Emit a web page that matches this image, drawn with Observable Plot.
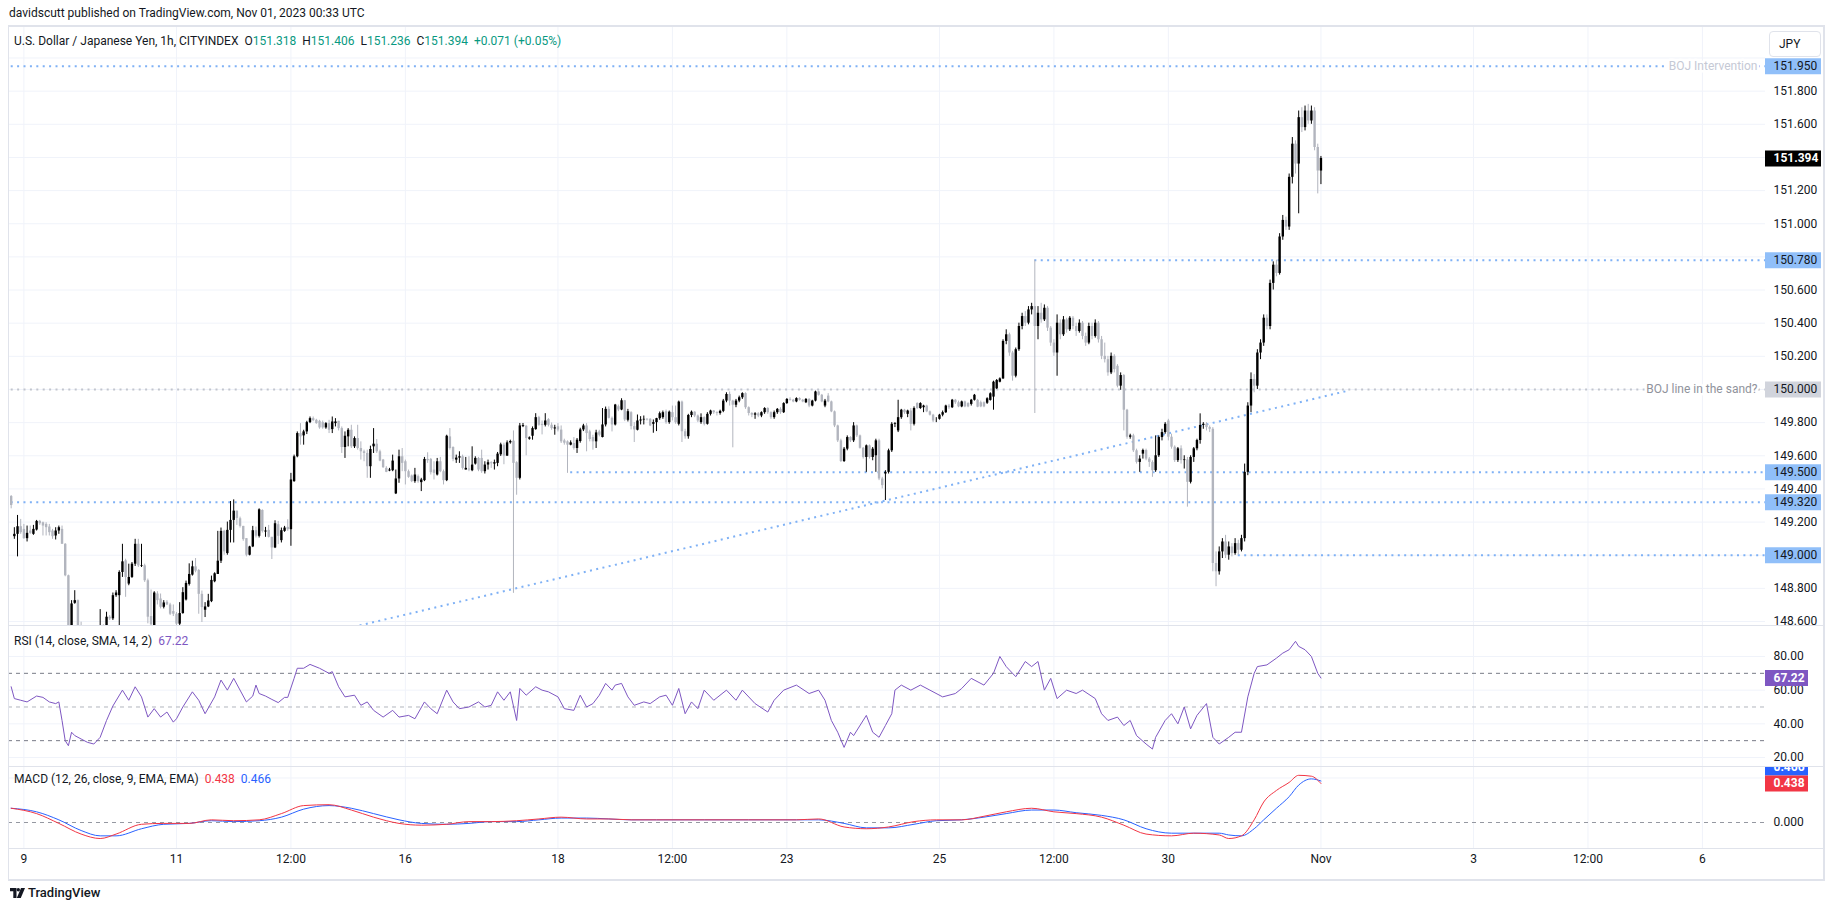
<!DOCTYPE html>
<html>
<head>
<meta charset="utf-8">
<script src="https://cdn.jsdelivr.net/npm/d3@7"></script>
<script src="https://cdn.jsdelivr.net/npm/@observablehq/plot@0.6"></script>
<style>
html,body{margin:0;padding:0;background:#fff;}
#root{position:relative;width:1835px;height:911px;overflow:hidden;font-family:Roboto,"Noto Sans",sans-serif;color:#131722;}
.pane{position:absolute;left:0;}
.ln{position:absolute;background:#e0e3eb;}
.txt{position:absolute;white-space:nowrap;font-size:12px;line-height:14px;}
.g{color:#089981;}
</style>
</head>
<body>
<div id="root">
  <div id="p3" class="pane" style="top:766px"></div>
  <div id="p2" class="pane" style="top:625px"></div>
  <div id="p1" class="pane" style="top:26px"></div>
  <div class="ln" style="left:8px;top:25px;width:1817px;height:2px"></div>
  <div class="ln" style="left:8px;top:879px;width:1817px;height:2px"></div>
  <div class="ln" style="left:8px;top:26px;width:1px;height:854px"></div>
  <div class="ln" style="left:1823px;top:26px;width:2px;height:854px"></div>
  <div class="ln" style="left:8px;top:625px;width:1816px;height:1px"></div>
  <div class="ln" style="left:8px;top:766px;width:1816px;height:1px"></div>
  <div class="ln" style="left:8px;top:848px;width:1816px;height:1px"></div>
  <div class="txt" style="left:9px;top:6px;">davidscutt published on TradingView.com, Nov 01, 2023 00:33 UTC</div>
  <div class="txt" style="left:14px;top:34px;">U.S. Dollar / Japanese Yen, 1h, CITYINDEX&nbsp;&nbsp;O<span class="g">151.318</span>&nbsp;&nbsp;H<span class="g">151.406</span>&nbsp;&nbsp;L<span class="g">151.236</span>&nbsp;&nbsp;C<span class="g">151.394</span>&nbsp;&nbsp;<span class="g">+0.071 (+0.05%)</span></div>
  <div class="txt" style="left:1769px;top:31px;width:50px;height:24px;line-height:24px;border:1px solid #e0e3eb;border-radius:4px;background:#fff;padding-left:0;text-indent:9px;">JPY</div>
  <div class="txt" style="left:14px;top:634px;">RSI (14, close, SMA, 14, 2)&nbsp;&nbsp;<span style="color:#7e57c2">67.22</span></div>
  <div class="txt" style="left:14px;top:772px;">MACD (12, 26, close, 9, EMA, EMA)&nbsp;&nbsp;<span style="color:#f23645">0.438</span>&nbsp;&nbsp;<span style="color:#2962ff">0.466</span></div>
  <div class="txt" style="left:10px;top:885px;font-size:13px;line-height:15px;font-weight:500;">
    <svg width="15" height="10" viewBox="0 0 15 10" style="vertical-align:-1px;margin-right:3px"><path d="M0 0h6.5v10h-3.2v-6.8H0z" fill="#131722"/><circle cx="8.3" cy="1.7" r="1.7" fill="#131722"/><path d="M11 0h4l-4.2 10h-4z" fill="#131722"/></svg>TradingView</div>
</div>
<script>
// ---------- time axis ----------
const firstBar = -4; // bar index of first candle (hourly bars, Mon Oct 9 00:00 = 0)
const timeTickBars = [0, 48, 84, 120, 168, 204, 240, 288, 324, 360, 408, 456, 492, 528];
const timeTickLabels = ["9", "11", "12:00", "16", "18", "12:00", "23", "25", "12:00", "30", "Nov", "3", "12:00", "6"];

// ---------- USDJPY 1h candles ----------
const opens = [
149.354,149.112,149.126,149.172,149.156,149.10,149.146,149.126,149.152,149.204,
149.196,149.186,149.17,149.146,149.116,149.146,149.156,149.066,148.876,148.52,
148.71,148.726,148.56,148.49,148.44,148.50,148.47,148.52,148.52,148.56,
148.55,148.626,148.616,148.756,148.756,148.896,148.966,148.826,148.866,148.946,
149.066,148.934,148.936,148.846,148.63,148.55,148.766,148.736,148.686,148.716,
148.70,148.66,148.644,148.584,148.648,148.73,148.824,148.88,148.93,148.908,
148.764,148.668,148.688,148.72,148.84,148.884,148.964,149.144,149.01,149.15,
149.21,149.266,149.22,149.174,149.1,149.0,149.05,149.148,149.114,149.27,
149.14,149.15,149.108,149.044,149.184,149.088,149.144,149.168,149.154,149.444,
149.594,149.734,149.72,149.744,149.80,149.824,149.814,149.808,149.80,149.768,
149.794,149.758,149.794,149.808,149.764,149.65,149.714,149.754,149.654,149.704,
149.644,149.624,149.614,149.534,149.654,149.67,149.624,149.574,149.524,149.508,
149.51,149.37,149.46,149.594,149.564,149.504,149.478,149.444,149.474,149.438,
149.45,149.578,149.578,149.514,149.484,149.564,149.504,149.45,149.714,149.65,
149.574,149.586,149.594,149.514,149.52,149.51,149.55,149.584,149.584,149.504,
149.544,149.558,149.55,149.554,149.606,149.664,149.598,149.678,149.688,149.558,
149.464,149.776,149.778,149.70,149.718,149.758,149.83,149.79,149.784,149.818,
149.784,149.762,149.775,149.755,149.69,149.684,149.664,149.674,149.644,149.686,
149.756,149.78,149.744,149.71,149.684,149.744,149.71,149.786,149.88,149.826,
149.786,149.896,149.876,149.932,149.814,149.86,149.776,149.754,149.81,149.816,
149.82,149.82,149.79,149.80,149.824,149.83,149.866,149.80,149.86,149.83,
149.79,149.924,149.745,149.715,149.843,149.863,149.84,149.80,149.83,149.79,
149.85,149.87,149.86,149.855,149.868,149.93,149.97,149.93,149.905,149.93,
149.95,149.975,149.89,149.855,149.845,149.853,149.84,149.86,149.885,149.86,
149.83,149.86,149.88,149.86,149.915,149.94,149.935,149.925,149.945,149.935,
149.92,149.94,149.90,149.93,149.985,149.965,149.9,149.96,149.925,149.865,
149.78,149.69,149.565,149.64,149.71,149.69,149.78,149.72,149.645,149.59,
149.66,149.59,149.60,149.69,149.46,149.49,149.50,149.63,149.79,149.75,
149.83,149.875,149.85,149.87,149.79,149.915,149.885,149.89,149.90,149.865,
149.845,149.81,149.82,149.845,149.86,149.90,149.89,149.935,149.92,149.895,
149.925,149.915,149.91,149.935,149.934,149.92,149.92,149.917,149.934,149.954,
150.004,150.044,150.064,150.29,150.33,150.22,150.08,150.24,150.38,150.44,
150.40,150.48,150.50,150.38,150.46,150.42,150.49,150.37,150.28,150.22,
150.40,150.33,150.42,150.36,150.43,150.38,150.35,150.40,150.32,150.28,
150.38,150.32,150.40,150.30,150.20,150.18,150.10,150.20,150.14,150.02,
150.084,149.875,149.712,149.72,149.63,149.56,149.61,149.632,149.58,149.56,
149.51,149.60,149.71,149.74,149.81,149.712,149.652,149.571,149.642,149.571,
149.575,149.44,149.59,149.642,149.692,149.783,149.79,149.77,149.76,148.95,
148.90,149.02,149.08,149.00,149.05,149.01,149.07,149.03,149.10,149.50,
149.90,150.06,150.02,150.22,150.28,150.43,150.38,150.64,150.75,150.70,
150.92,151.02,150.98,151.28,151.48,151.36,151.64,151.58,151.68,151.62,
151.68,151.46,151.318];
const highs = [
149.36,149.166,149.24,149.216,149.186,149.176,149.176,149.18,149.21,149.21,
149.2,149.196,149.186,149.156,149.166,149.176,149.176,149.07,148.88,148.726,
148.786,148.73,148.596,148.52,148.52,148.54,148.55,148.56,148.672,148.58,
148.656,148.636,148.772,148.786,148.906,149.066,148.976,148.946,148.956,149.096,
149.096,149.066,148.946,148.856,148.79,148.78,148.78,148.766,148.726,148.726,
148.71,148.70,148.654,148.714,148.804,148.844,148.948,148.964,148.98,148.914,
148.784,148.714,148.764,148.874,148.894,149.144,149.164,149.15,149.2,149.324,
149.334,149.266,149.23,149.174,149.1,149.054,149.174,149.17,149.28,149.274,
149.168,149.18,149.108,149.208,149.204,149.164,149.174,149.214,149.494,149.604,
149.744,149.794,149.754,149.808,149.834,149.834,149.82,149.814,149.81,149.80,
149.814,149.834,149.824,149.808,149.774,149.744,149.764,149.784,149.714,149.784,
149.684,149.634,149.634,149.658,149.764,149.698,149.634,149.578,149.534,149.524,
149.604,149.514,149.634,149.644,149.574,149.514,149.484,149.524,149.484,149.464,
149.59,149.618,149.584,149.564,149.584,149.59,149.514,149.724,149.764,149.654,
149.604,149.624,149.604,149.59,149.594,149.654,149.594,149.59,149.634,149.564,
149.574,149.564,149.574,149.62,149.676,149.676,149.69,149.694,149.75,149.564,
149.795,149.795,149.782,149.714,149.774,149.854,149.838,149.81,149.854,149.824,
149.798,149.784,149.794,149.78,149.70,149.69,149.69,149.71,149.704,149.766,
149.79,149.794,149.754,149.724,149.754,149.754,149.885,149.894,149.895,149.834,
149.91,149.906,149.944,149.934,149.88,149.866,149.80,149.846,149.836,149.84,
149.824,149.824,149.816,149.826,149.864,149.87,149.876,149.87,149.90,149.90,
149.93,149.93,149.76,149.85,149.87,149.866,149.846,149.853,149.835,149.86,
149.875,149.873,149.865,149.875,149.94,149.98,149.985,149.935,149.94,149.96,
149.98,149.98,149.895,149.86,149.86,149.86,149.865,149.89,149.89,149.865,
149.87,149.885,149.89,149.92,149.945,149.95,149.94,149.95,149.95,149.94,
149.945,149.945,149.935,149.99,149.99,149.97,149.94,149.975,149.93,149.87,
149.785,149.70,149.65,149.72,149.715,149.80,149.785,149.725,149.65,149.665,
149.665,149.65,149.70,149.70,149.47,149.51,149.64,149.80,149.80,149.935,
149.88,149.88,149.875,149.885,149.895,149.92,149.92,149.905,149.905,149.87,
149.85,149.83,149.85,149.87,149.905,149.91,149.94,149.94,149.93,149.93,
149.93,149.92,149.94,149.97,149.94,149.93,149.925,149.95,149.98,150.05,
150.06,150.07,150.30,150.36,150.34,150.23,150.25,150.40,150.46,150.47,
150.50,150.52,150.78,150.50,150.52,150.51,150.50,150.38,150.30,150.45,
150.42,150.44,150.43,150.44,150.44,150.40,150.42,150.41,150.34,150.40,
150.40,150.42,150.41,150.32,150.28,150.20,150.22,150.21,150.15,150.10,
150.09,149.88,149.73,149.73,149.64,149.60,149.64,149.64,149.59,149.57,
149.72,149.72,149.76,149.80,149.82,149.73,149.66,149.65,149.66,149.60,
149.59,149.60,149.65,149.70,149.853,149.80,149.80,149.78,149.77,149.02,
149.05,149.10,149.12,149.08,149.07,149.10,149.09,149.12,149.55,149.92,
150.10,150.09,150.24,150.30,150.45,150.45,150.66,150.77,150.78,150.94,
151.05,151.04,151.30,151.52,151.50,151.68,151.70,151.71,151.72,151.71,
151.70,151.48,151.406];
const lows = [
149.28,149.096,148.99,149.126,149.096,149.08,149.126,149.12,149.146,149.18,
149.116,149.116,149.116,149.096,149.092,149.126,149.066,148.87,148.50,148.50,
148.704,148.53,148.47,148.40,148.42,148.45,148.44,148.48,148.50,148.50,
148.53,148.606,148.606,148.746,148.56,148.866,148.746,148.816,148.86,148.932,
148.926,148.926,148.836,148.586,148.57,148.54,148.70,148.676,148.676,148.696,
148.636,148.63,148.574,148.574,148.644,148.724,148.814,148.874,148.894,148.644,
148.594,148.624,148.684,148.714,148.834,148.884,148.95,149.0,149.0,149.074,
149.074,149.18,149.164,149.084,148.99,148.996,149.046,149.104,149.104,149.134,
149.108,149.104,148.974,149.04,149.064,149.074,149.138,149.144,149.054,149.44,
149.588,149.664,149.664,149.728,149.794,149.806,149.79,149.76,149.76,149.76,
149.734,149.734,149.774,149.75,149.614,149.584,149.654,149.644,149.644,149.634,
149.574,149.564,149.464,149.464,149.614,149.614,149.564,149.524,149.498,149.504,
149.504,149.366,149.434,149.504,149.424,149.464,149.438,149.434,149.434,149.384,
149.444,149.554,149.484,149.454,149.478,149.498,149.424,149.444,149.634,149.564,
149.554,149.554,149.514,149.514,149.504,149.504,149.544,149.504,149.494,149.49,
149.514,149.524,149.514,149.534,149.596,149.546,149.596,149.67,148.77,149.362,
149.454,149.77,149.60,149.694,149.694,149.754,149.778,149.726,149.774,149.774,
149.754,149.724,149.744,149.674,149.664,149.494,149.66,149.634,149.614,149.676,
149.746,149.624,149.684,149.634,149.644,149.714,149.708,149.774,149.822,149.744,
149.78,149.866,149.872,149.806,149.804,149.756,149.68,149.75,149.786,149.786,
149.81,149.776,149.736,149.746,149.814,149.82,149.79,149.79,149.81,149.79,
149.78,149.68,149.70,149.70,149.83,149.83,149.80,149.79,149.78,149.785,
149.84,149.85,149.84,149.845,149.86,149.92,149.90,149.648,149.89,149.92,
149.94,149.88,149.84,149.83,149.82,149.83,149.83,149.85,149.85,149.82,
149.82,149.85,149.85,149.855,149.91,149.93,149.92,149.92,149.93,149.92,
149.915,149.89,149.895,149.925,149.96,149.92,149.89,149.92,149.86,149.77,
149.68,149.56,149.56,149.63,149.68,149.68,149.71,149.64,149.58,149.50,
149.58,149.57,149.50,149.45,149.40,149.33,149.49,149.62,149.77,149.74,
149.82,149.85,149.83,149.75,149.78,149.88,149.88,149.86,149.86,149.84,
149.80,149.80,149.815,149.835,149.855,149.88,149.885,149.91,149.89,149.89,
149.89,149.89,149.90,149.93,149.89,149.89,149.89,149.91,149.93,149.875,
150.0,150.04,150.06,150.27,150.20,150.05,150.07,150.23,150.36,150.38,
150.39,150.45,149.855,150.30,150.40,150.41,150.35,150.26,150.20,150.08,
150.30,150.32,150.34,150.35,150.36,150.32,150.34,150.30,150.26,150.27,
150.30,150.31,150.28,150.18,150.16,150.08,150.09,150.10,150.01,149.995,
149.75,149.70,149.70,149.62,149.55,149.50,149.58,149.57,149.53,149.47,
149.50,149.59,149.69,149.73,149.69,149.64,149.56,149.56,149.55,149.52,
149.29,149.43,149.56,149.63,149.67,149.76,149.75,149.74,148.90,148.81,
148.88,148.98,148.98,148.97,148.99,149.0,149.00,149.02,149.08,149.48,
149.86,149.98,150.00,150.18,150.26,150.36,150.36,150.60,150.68,150.69,
150.90,150.96,150.96,151.24,151.30,151.06,151.55,151.56,151.60,151.60,
151.44,151.18,151.236];
const closes = [
149.30,149.126,149.172,149.136,149.10,149.132,149.132,149.156,149.204,149.19,
149.176,149.166,149.136,149.112,149.146,149.166,149.066,148.876,148.52,148.706,
148.726,148.55,148.49,148.44,148.50,148.47,148.52,148.54,148.56,148.55,
148.626,148.616,148.756,148.772,148.896,148.96,148.866,148.866,148.946,149.066,
148.936,148.938,148.846,148.626,148.58,148.772,148.726,148.686,148.712,148.70,
148.644,148.644,148.584,148.648,148.774,148.83,148.884,148.93,148.904,148.764,
148.684,148.688,148.724,148.848,148.888,148.964,149.144,149.02,149.15,149.21,
149.266,149.222,149.174,149.094,149.0,149.05,149.148,149.115,149.274,149.144,
149.146,149.108,149.044,149.19,149.114,149.148,149.164,149.154,149.454,149.594,
149.734,149.714,149.744,149.80,149.824,149.812,149.794,149.768,149.768,149.794,
149.754,149.804,149.804,149.764,149.65,149.718,149.754,149.654,149.704,149.644,
149.624,149.614,149.534,149.638,149.67,149.624,149.568,149.528,149.50,149.514,
149.568,149.46,149.594,149.554,149.504,149.47,149.444,149.484,149.444,149.454,
149.578,149.57,149.498,149.494,149.564,149.504,149.45,149.718,149.644,149.578,
149.586,149.594,149.524,149.524,149.514,149.544,149.584,149.514,149.504,149.544,
149.558,149.552,149.558,149.61,149.666,149.598,149.678,149.686,149.554,149.464,
149.78,149.782,149.704,149.708,149.764,149.83,149.784,149.782,149.81,149.784,
149.764,149.768,149.755,149.684,149.676,149.664,149.678,149.644,149.694,149.756,
149.78,149.734,149.698,149.684,149.738,149.724,149.786,149.88,149.826,149.786,
149.906,149.876,149.932,149.816,149.866,149.776,149.756,149.81,149.816,149.82,
149.816,149.78,149.80,149.824,149.854,149.86,149.80,149.863,149.83,149.80,
149.924,149.745,149.715,149.843,149.863,149.84,149.81,149.83,149.79,149.85,
149.87,149.86,149.855,149.868,149.93,149.97,149.93,149.905,149.93,149.95,
149.975,149.89,149.855,149.845,149.853,149.84,149.86,149.885,149.86,149.83,
149.86,149.88,149.86,149.915,149.94,149.935,149.925,149.945,149.935,149.925,
149.94,149.90,149.93,149.985,149.965,149.925,149.93,149.925,149.865,149.78,
149.69,149.565,149.64,149.71,149.69,149.78,149.72,149.645,149.59,149.66,
149.59,149.64,149.69,149.46,149.42,149.50,149.63,149.79,149.795,149.83,
149.875,149.86,149.87,149.79,149.885,149.885,149.915,149.90,149.865,149.845,
149.81,149.81,149.845,149.86,149.90,149.89,149.935,149.92,149.895,149.925,
149.895,149.895,149.935,149.965,149.893,149.895,149.895,149.944,149.974,150.044,
150.054,150.064,150.29,150.33,150.22,150.08,150.24,150.38,150.44,150.40,
150.48,150.50,150.38,150.46,150.42,150.49,150.37,150.28,150.22,150.40,
150.33,150.42,150.36,150.43,150.38,150.35,150.40,150.32,150.28,150.38,
150.32,150.40,150.30,150.20,150.18,150.10,150.20,150.12,150.02,150.084,
149.875,149.712,149.72,149.63,149.56,149.58,149.632,149.58,149.56,149.51,
149.60,149.71,149.74,149.79,149.712,149.652,149.571,149.642,149.571,149.575,
149.44,149.59,149.642,149.692,149.783,149.79,149.77,149.76,148.95,148.90,
149.02,149.08,149.00,149.05,149.01,149.07,149.03,149.10,149.50,149.90,
150.06,150.02,150.22,150.28,150.43,150.38,150.64,150.75,150.70,150.92,
151.02,150.98,151.28,151.48,151.36,151.64,151.58,151.68,151.62,151.68,
151.46,151.318,151.394];

// ---------- price pane annotations ----------
const priceTicks = [151.8, 151.6, 151.2, 151.0, 150.6, 150.4, 150.2, 149.8, 149.6, 149.4, 149.2, 148.8, 148.6];
const priceGrid = [148.6, 148.8, 149.0, 149.2, 149.4, 149.6, 149.8, 150.0, 150.2, 150.4, 150.6, 150.8, 151.0, 151.2, 151.4, 151.6, 151.8, 152.0];
const levelPrices = [151.95, 150.78, 150.0, 149.5, 149.32, 149.0];
const levelStartBars = [-6, 318, -6, 172, -4, 382];
const levelColors = ["#7fb1f5", "#7fb1f5", "#c2c5cd", "#7fb1f5", "#7fb1f5", "#7fb1f5"];
const trendBars = [105.6, 416];
const trendPrices = [148.576, 149.99];
const noteTexts = ["BOJ Intervention", "BOJ line in the sand?"];
const notePrices = [151.95, 150.0];
const noteColors = ["#c5c9d5", "#8f929b"];
const tagPrices = [151.95, 151.394, 150.78, 150.0, 149.5, 149.32, 149.0];
const tagFills = ["#90bff9", "#000000", "#90bff9", "#d1d4dc", "#90bff9", "#90bff9", "#90bff9"];
const tagTextColors = ["#131722", "#ffffff", "#131722", "#131722", "#131722", "#131722", "#131722"];
const tagBold = [false, true, false, false, false, false, false];

// ---------- RSI (14) ----------
const rsiBars = [-4,-3,-1,1,4,6,8,10,11,12,13,14,15,16,18,20,22,24,26,28,
31,33,35,37,39,41,43,45,47,48,50,53,55,57,60,62,64,66,70,72,
73,74,76,78,80,82,83,85,86,88,90,93,96,97,99,101,104,106,108,110,
113,116,118,121,123,126,128,130,133,135,137,140,143,145,147,149,151,153,155,156,
158,161,163,165,168,170,173,175,177,179,181,183,185,186,188,190,192,195,197,200,
202,204,206,208,210,212,214,217,221,224,226,230,234,236,239,243,247,250,252,254,
256,258,260,261,265,267,269,271,273,274,276,279,282,285,289,293,295,298,302,305,
307,309,312,315,317,319,321,323,325,328,331,333,337,339,341,344,346,348,350,353,
355,356,359,361,363,365,367,369,372,374,376,379,381,383,385,387,388,391,394,396,
398,400,401,403,405,407,408];
const rsiValues = [62,55,54,53,56.5,55.7,53,52,53,42,30,27,35,33,31,29,28,32,42,50.6,
60,54,62,56,44,49,44,47,41,43,50,59,54,46,56,66,60,67,53,56.5,
63,58,56.5,54.5,52.6,55.7,55.7,67,73,73,75.3,73,70,71,62,56,57,51,53,48,
44,48,44,45,43,53,49,46,60,53,49,50,53,50,51,59,54,59,42,61,
57,62,60,59,56,49,48,57,50,52,57,64,60,63,64,56,51,53,52,56,
57,51,61,46,53,49,60,54,60,54,60,52,47,54,60,63,58,60,54,42,
35,26,35,33,45,35,32,39,46,60,63,60,63,60,56,58,61,67,63,70,
80,74,68,77,74,77,60,67,55,60,58,60,55,46,42,44,39,42,33,28,
25,32,42,46,40,50,37,45,52,32,28,32,35,35,56,70,74,75,79,82,
84,89,86,84,80,70,67.22];
const rsiTicks = [80, 60, 40, 20];
const rsiBands = [70, 50, 30];

// ---------- MACD (12, 26, 9) ----------
const macdBars = [-4,4,11,18,24,29,37,44,52,59,66,74,81,88,96,103,110,118,125,133,
140,147,155,162,169,177,184,191,199,214,228,243,250,258,265,272,280,287,295,302,
309,317,324,331,339,346,353,361,368,376,379,383,387,390,394,398,401,405,408];
const macdValues = [0.16,0.10,-0.01,-0.13,-0.18,-0.13,-0.02,-0.01,-0.01,0.03,0.02,0.03,0.10,0.19,0.20,0.14,0.06,-0.01,-0.03,-0.02,
0.01,0.01,0.02,0.04,0.06,0.04,0.04,0.03,0.03,0.03,0.03,0.03,0.04,-0.05,-0.07,-0.05,0.01,0.03,0.03,0.07,
0.12,0.16,0.12,0.10,0.06,-0.03,-0.13,-0.15,-0.12,-0.14,-0.18,-0.15,0.03,0.23,0.36,0.45,0.53,0.52,0.438];
const signalValues = [0.16,0.12,0.03,-0.09,-0.15,-0.15,-0.07,-0.02,-0.01,0.02,0.01,0.02,0.06,0.15,0.19,0.16,0.10,0.03,-0.01,-0.02,
-0.01,0.01,0.01,0.03,0.05,0.05,0.04,0.03,0.03,0.03,0.03,0.03,0.03,-0.01,-0.06,-0.06,-0.02,0.02,0.03,0.06,
0.10,0.14,0.14,0.11,0.08,0.03,-0.07,-0.12,-0.12,-0.12,-0.14,-0.15,-0.07,0.03,0.16,0.29,0.42,0.49,0.466];

// ---------- build tables ----------
const candles = opens.map((o, i) => ({b: firstBar + i, o, h: highs[i], l: lows[i], c: closes[i]}));
const upColor = "#000000", downColor = "#b2b5be";
const candleColor = d => d.c >= d.o ? upColor : downColor;
const timeTicks = timeTickBars.map((b, i) => ({b, label: timeTickLabels[i]}));
const levels = levelPrices.map((p, i) => ({p, start: levelStartBars[i], color: levelColors[i]}));
const trend = [{x1: trendBars[0], y1: trendPrices[0], x2: trendBars[1], y2: trendPrices[1]}];
const notes = noteTexts.map((t, i) => ({t, p: notePrices[i], color: noteColors[i]}));
const tags = tagPrices.map((p, i) => ({p, bg: tagFills[i], fg: tagTextColors[i], bold: tagBold[i]}));
const rsiRows = rsiBars.map((b, i) => ({b, v: rsiValues[i]}));
const macdRows = macdBars.map((b, i) => ({b, m: macdValues[i], s: signalValues[i]}));
const rsiLast = rsiValues[rsiValues.length - 1];
const macdLast = macdValues[macdValues.length - 1];
const signalLast = signalValues[signalValues.length - 1];

// ---------- layout ----------
const W = 1835, ML = 8, MR = 70;
const xDomain = [-4.84, 547.84];
const pxPerBar = (W - ML - MR) / (xDomain[1] - xDomain[0]);
const axisStart = () => xDomain[1];
const axisEnd = w => () => xDomain[1] + w / pxPerBar;
const font = "Roboto, 'Noto Sans', sans-serif";
const base = {
  width: W, marginLeft: ML, marginRight: MR, marginTop: 0,
  x: {type: "linear", domain: xDomain, axis: null},
  color: {type: "identity"}
};
const paneStyle = overflow => ({background: "transparent", overflow, fontFamily: font, fontSize: "12px", color: "#131722"});
const gridColor = "#f0f3fa";
const dark = "#131722";

// Price pane
const p1 = Plot.plot({
  ...base, height: 599, marginBottom: 0, style: paneStyle("visible"),
  y: {domain: [148.576, 152.19], axis: null},
  marks: [
    Plot.ruleY(priceGrid, {stroke: gridColor}),
    Plot.ruleX(timeTicks, {x: "b", stroke: gridColor}),
    Plot.ruleY(levels, {y: "p", x1: "start", x2: axisStart, stroke: "color", strokeWidth: 2, strokeDasharray: "2,4.4", clip: true}),
    Plot.link(trend, {x1: "x1", y1: "y1", x2: "x2", y2: "y2", stroke: "#7fb1f5", strokeWidth: 2, strokeDasharray: "2,4.4", clip: true}),
    Plot.ruleX(candles, {x: "b", y1: "l", y2: "h", stroke: candleColor, strokeWidth: 1, clip: true}),
    Plot.ruleX(candles, {x: "b", y1: "o", y2: "c", stroke: candleColor, strokeWidth: 2.4, clip: true}),
    Plot.text(notes, {y: "p", text: "t", fill: "color", frameAnchor: "right", textAnchor: "end", dx: -8, stroke: "white", strokeWidth: 5, fontSize: 12}),
    Plot.text(priceTicks, {y: d => d, text: d => d.toFixed(3), frameAnchor: "right", textAnchor: "start", dx: 8, fill: dark}),
    Plot.ruleY(tags, {y: "p", x1: axisStart, x2: axisEnd(56), stroke: "bg", strokeWidth: 16}),
    Plot.text(tags.filter(d => !d.bold), {y: "p", text: d => d.p.toFixed(3), frameAnchor: "right", textAnchor: "start", dx: 8, fill: "fg"}),
    Plot.text(tags.filter(d => d.bold), {y: "p", text: d => d.p.toFixed(3), frameAnchor: "right", textAnchor: "start", dx: 8, fill: "fg", fontWeight: "bold"})
  ]
});
document.getElementById("p1").appendChild(p1);

// RSI pane
const p2 = Plot.plot({
  ...base, height: 141, marginBottom: 0, style: paneStyle("visible"),
  y: {domain: [14.65, 98.4], axis: null},
  marks: [
    Plot.ruleY(rsiTicks, {stroke: gridColor}),
    Plot.ruleX(timeTicks, {x: "b", stroke: gridColor}),
    Plot.ruleY([rsiBands[0], rsiBands[2]], {stroke: "#787b86", strokeDasharray: "4,4"}),
    Plot.ruleY([rsiBands[1]], {stroke: "#b2b5be", strokeDasharray: "4,4"}),
    Plot.line(rsiRows, {x: "b", y: "v", stroke: "#7e57c2", strokeWidth: 1, clip: true}),
    Plot.text(rsiTicks, {y: d => d, text: d => d.toFixed(2), frameAnchor: "right", textAnchor: "start", dx: 8, fill: dark}),
    Plot.ruleY([rsiLast], {x1: axisStart, x2: axisEnd(43), stroke: "#7e57c2", strokeWidth: 16}),
    Plot.text([rsiLast], {y: d => d, text: d => d.toFixed(2), frameAnchor: "right", textAnchor: "start", dx: 8, fill: "white", fontWeight: "bold"})
  ]
});
document.getElementById("p2").appendChild(p2);

// MACD pane + time axis
const p3 = Plot.plot({
  ...base, height: 114, marginBottom: 32, style: paneStyle("hidden"),
  y: {domain: [-0.292, 0.629], axis: null},
  marks: [
    Plot.ruleY([0.5], {stroke: gridColor}),
    Plot.ruleX(timeTicks, {x: "b", stroke: gridColor}),
    Plot.ruleY([0], {stroke: "#9598a1", strokeDasharray: "4,4"}),
    Plot.line(macdRows, {x: "b", y: "s", stroke: "#2962ff", strokeWidth: 1, curve: "monotone-x", clip: true}),
    Plot.line(macdRows, {x: "b", y: "m", stroke: "#f23645", strokeWidth: 1, curve: "monotone-x", clip: true}),
    Plot.text([0], {y: d => d, text: d => d.toFixed(3), frameAnchor: "right", textAnchor: "start", dx: 8, fill: dark}),
    Plot.ruleY([signalLast], {x1: axisStart, x2: axisEnd(43), stroke: "#2962ff", strokeWidth: 16, dy: -13.5}),
    Plot.text([signalLast], {y: d => d, text: d => d.toFixed(3), frameAnchor: "right", textAnchor: "start", dx: 8, dy: -13.5, fill: "white", fontWeight: "bold"}),
    Plot.ruleY([macdLast], {x1: axisStart, x2: axisEnd(43), stroke: "#f23645", strokeWidth: 16}),
    Plot.text([macdLast], {y: d => d, text: d => d.toFixed(3), frameAnchor: "right", textAnchor: "start", dx: 8, fill: "white", fontWeight: "bold"}),
    Plot.text(timeTicks, {x: "b", text: "label", frameAnchor: "bottom", dy: 14, fill: dark})
  ]
});
document.getElementById("p3").appendChild(p3);
</script>
</body>
</html>
